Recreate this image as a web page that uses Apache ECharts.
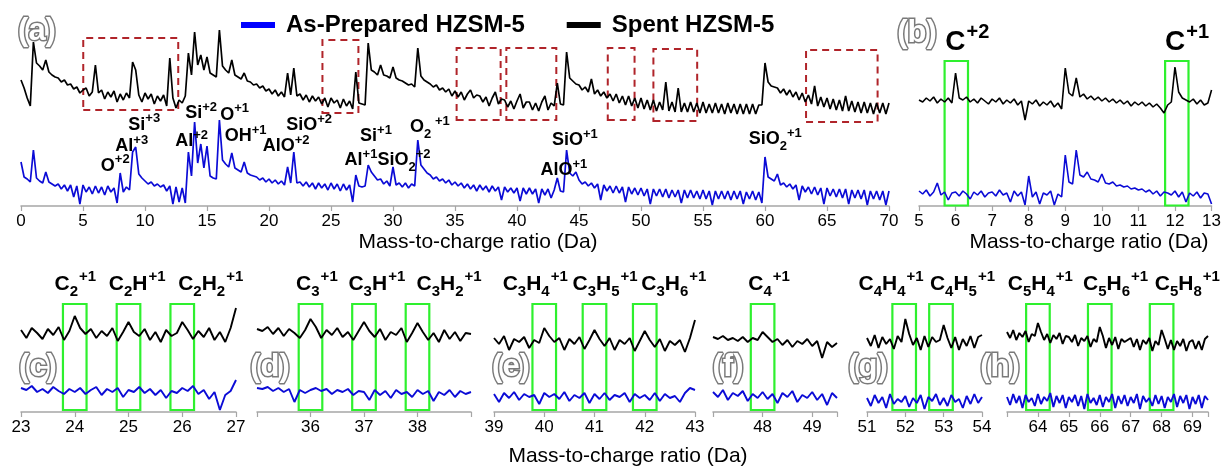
<!DOCTYPE html>
<html><head><meta charset="utf-8">
<script src="https://cdn.jsdelivr.net/npm/echarts/dist/echarts.min.js"></script>
<style>html,body{margin:0;padding:0;background:#fff}#c{width:1224px;height:466px}</style>
</head><body><div id="c"></div>
<script>
// ---------------- DATA (intensities in arbitrary offset units) ----------------
// Panel (a): m/z 0..70, step 0.25
const blackA = [
126,118,108,100, 164,143,140,136, 146,134,131,129, 128,124,126,121, 122,117,119,113,
116,118,110,114, 141,113,116,107, 114,109,115,104, 112,106,113,108, 144,136,111,104,
113,107,112,102, 110,105,111,100, 148,108,98,106, 103,110,153,131, 174,141,151,136,
149,133,131,129, 176,140,136,133, 146,131,129,127, 133,125,124,121, 122,118,120,115,
117,112,116,110, 114,109,133,111, 138,110,112,106, 111,104,110,105, 109,102,108,99,
108,103,106,98, 107,100,105,97, 134,103,102,101, 163,136,134,131, 141,131,130,128,
139,128,126,125, 123,121,122,119, 158,130,126,124, 122,119,121,116, 118,114,117,110,
115,109,114,106, 112,116,108,111, 110,104,109,100, 108,114,102,107, 106,99,105,97,
105,112,98,104, 104,96,103,95, 104,110,96,103, 100,123,102,101, 154,128,125,122,
121,116,119,114, 127,112,116,110, 114,108,112,105, 112,103,110,101, 110,100,108,98,
108,97,106,96, 106,95,104,96, 124,95,104,94, 118,94,103,94, 104,94,103,93,
104,93,102,93, 103,93,102,92, 103,93,102,92, 102,92,102,92, 102,92,101,101,
143,124,120,119, 118,113,117,111, 116,109,114,106, 113,104,111,102, 120,100,109,99,
108,97,107,96, 106,95,110,95, 105,94,104,93, 104,93,103,92, 103,93,103,92, 103];
const blueA = [
44,29,27,24, 56,28,25,23, 34,24,22,20, 22,17,21,15, 21,9,20,2,
21,14,19,12, 20,13,19,11, 20,14,18,3, 33,14,19,16, 54,59,32,28,
25,22,24,20, 22,19,21,15, 20,2,19,4, 18,3,54,30, 84,43,62,38,
60,30,28,27, 86,46,42,39, 53,38,36,34, 44,33,31,30, 29,26,28,24,
27,23,26,22, 25,21,39,23, 54,23,24,20, 24,19,23,17, 23,18,22,16,
23,17,22,15, 22,16,21,4, 31,20,19,20, 41,34,30,26, 27,22,25,20,
39,21,23,19, 23,18,22,20, 66,41,37,33, 31,27,29,25, 27,23,26,21,
24,20,23,18, 22,17,21,15, 21,16,20,14, 20,15,19,6, 19,14,18,13,
18,5,18,12, 18,12,17,3, 17,11,17,8, 16,28,15,14, 56,33,30,34,
26,22,24,20, 23,18,22,6, 21,15,20,13, 20,13,19,4, 19,12,18,11,
18,10,17,2, 17,10,17,9, 17,8,16,9, 16,3,16,8, 16,8,15,7,
16,7,15,1, 15,7,15,7, 15,6,15,7, 15,2,14,7, 15,6,14,3,
49,29,27,25, 32,21,23,19, 22,17,21,6, 20,14,19,12, 19,11,18,2,
18,10,17,9, 17,8,17,2, 16,8,16,7, 16,1,15,7, 15,6,15,1, 15];
// Panel (b): m/z 5..13, step 0.1
const blackB = [
106,104,108,105,109,103,107,104,108,103, 133,108,106,109,104,107,103,108,105,102,
107,104,108,102,106,103,107,101,105,86, 105,102,106,100,104,101,105,99,103,97,
138,113,110,128,109,112,107,110,106,109, 105,108,104,107,103,106,102,105,100,104,
101,104,100,103,99,102,98,93,101,104, 139,114,108,106,104,107,102,106,101,103, 116];
const blueB = [
15,12,16,10,14,23,11,14,6,13, 14,10,15,12,7,14,11,15,9,13,
14,10,16,11,13,4,15,10,14,1, 30,9,14,2,13,11,15,1,12,9,
51,24,22,56,31,29,34,27,26,24, 32,23,22,24,20,21,19,20,17,18,
16,17,14,16,12,15,10,14,13,11, 15,9,14,4,13,10,14,8,13,12, 2];
// Panels (c)-(h): step 0.1
const blackC = [82,74,84,79,73,83,77,85,72,81, 96,84,78,83,74,81,76,84,71,80, 90,80,76,83,72,80,70,82,76,79, 90,82,73,81,75,84,72,80,70,84, 104];
const blueC  = [24,22,26,20,23,19,25,21,18,23, 20,24,18,22,25,17,23,20,24,15, 22,20,25,19,23,17,22,14,21,19, 24,21,26,18,22,13,20,2,17,21, 32];
const blackD = [83,81,85,78,84,76,83,79,74,82, 93,85,74,82,77,84,75,80,72,81, 90,81,75,83,72,80,77,84,70,79, 89,80,72,79,70,82,73,80,71,79, 78];
const blueD  = [24,23,25,21,24,20,23,10,22,19, 22,24,21,23,18,22,20,23,17,21, 20,12,22,17,21,14,22,18,20,15, 22,18,21,11,20,17,22,15,21,18, 20];
const blackE = [74,68,76,62,73,70,75,64,72,69, 84,76,70,74,62,73,68,75,63,72, 82,73,66,74,62,72,68,74,61,71, 81,72,65,73,61,71,67,72,60,74, 92];
const blueE  = [18,10,19,14,20,12,18,15,17,8, 19,15,18,13,20,11,17,14,19,9, 18,13,19,12,17,15,19,10,18,14, 17,12,19,11,18,14,16,10,19,24, 22];
const blackF = [75,73,76,72,74,71,75,70,74,72, 80,75,70,73,67,72,65,71,68,73, 66,71,54,70,65,69];
const blueF  = [20,15,22,12,19,16,21,11,18,14, 20,13,18,9,19,15,21,10,17,14, 20,12,18,7,19,14];
const blackG = [74,66,77,64,75,68,73,63,76,70, 93,78,67,74,62,76,65,75,70,72, 87,74,64,75,62,73,66,76,64,75, 77];
const blueG  = [14,6,17,9,15,4,18,8,13,10, 16,5,14,9,17,3,15,11,18,7, 14,6,17,10,13,4,16,8,18,9, 15];
const blackH = [80,74,82,72,79,75,81,70,78,76, 89,80,72,78,69,77,73,79,68,76, 75,70,77,66,74,71,76,65,73,70,
                85,76,64,74,67,75,63,73,70,72, 74,65,73,62,72,68,74,61,71,67, 82,73,63,72,62,71,66,73,61,70, 72,63,71,62,73,76];
const blueH  = [15,7,18,9,16,4,17,10,14,6, 18,8,15,11,19,5,16,9,17,4, 15,10,17,6,16,3,18,9,14,7,
                17,5,15,10,18,4,16,8,17,6, 15,9,18,3,16,10,14,6,17,8, 16,4,15,10,18,5,16,9,17,3, 15,8,17,4,16,12];

// Tick labels shown on each axis
const ticksA = [0,5,10,15,20,25,30,35,40,45,50,55,60,65,70];
const ticksB = [5,6,7,8,9,10,11,12,13];
const ticksC = [23,24,25,26,27];
const ticksD = [36,37,38];
const ticksE = [39,40,41,42,43];
const ticksF = [48,49];
const ticksG = [51,52,53,54];
const ticksH = [64,65,66,67,68,69];

// Ion annotations: [m/z, level, label]
const ionsA = [
 [7.60,40,'{m|O}{sup|+2}'], [8.93,59.5,'{m|Al}{sup|+3}'], [9.94,81,'{m|Si}{sup|+3}'],
 [13.76,64.5,'{m|Al}{sup|+2}'], [14.53,92.5,'{m|Si}{sup|+2}'], [17.23,91,'{m|O}{sup|+1}'],
 [18.11,69.5,'{m|OH}{sup|+1}'], [21.38,59.5,'{m|AlO}{sup|+2}'], [23.23,80.5,'{m|SiO}{sup|+2}'],
 [28.63,69.5,'{m|Si}{sup|+1}'], [29.56,45.5,'{m|Al}{sup|+1}{m|SiO}{sub|2}{sup|+2}'],
 [32.98,78.5,'{m|O}{sub|2}{sup| +1}'], [43.78,35.5,'{m|AlO}{sup|+1}'], [44.67,65.5,'{m|SiO}{sup|+1}'],
 [60.82,66.5,'{m|SiO}{sub|2}{sup|+1}']];
const ionsB = [[6.32,163.5,'{m|C}{sup|+2}'], [12.33,163.5,'{m|C}{sup|+1}']];
const ionsC = [[24.01,128,'{m|C}{sub|2}{sup|+1}'], [25.16,128,'{m|C}{sub|2}{m|H}{sup|+1}'], [26.53,128,'{m|C}{sub|2}{m|H}{sub|2}{sup|+1}']];
const ionsD = [[36.12,128,'{m|C}{sub|3}{sup|+1}'], [37.24,128,'{m|C}{sub|3}{m|H}{sup|+1}'], [38.59,128,'{m|C}{sub|3}{m|H}{sub|2}{sup|+1}']];
const ionsE = [[39.82,128,'{m|C}{sub|3}{m|H}{sub|4}{sup|+1}'], [41.21,128,'{m|C}{sub|3}{m|H}{sub|5}{sup|+1}'], [42.58,128,'{m|C}{sub|3}{m|H}{sub|6}{sup|+1}']];
const ionsF = [[48.13,128,'{m|C}{sub|4}{sup|+1}']];
const ionsG = [[51.63,128,'{m|C}{sub|4}{m|H}{sub|4}{sup|+1}'], [53.49,128,'{m|C}{sub|4}{m|H}{sub|5}{sup|+1}']];
const ionsH = [[64.08,128,'{m|C}{sub|5}{m|H}{sub|4}{sup|+1}'], [66.51,128,'{m|C}{sub|5}{m|H}{sub|6}{sup|+1}'], [68.83,128,'{m|C}{sub|5}{m|H}{sub|8}{sup|+1}']];

// Highlight boxes
const redBoxesA = [[5.02,12.68,96,168],[24.31,27.21,93,166],[35.13,38.68,86,158],[39.14,43.17,86,158],[47.32,49.48,86,158],[51.0,54.53,85,157],[63.31,69.08,84,156]];
const greenB = [6.02,12.05];
const greenC = [24,25,26];
const greenD = [36,37,38];
const greenE = [40,41,42];
const greenF = [48];
const greenG = [51.97,52.93];
const greenH = [64,66,68];

// ---------------- LAYOUT ----------------
const FONT = 'Arial, "Liberation Sans", Helvetica, sans-serif';
const BLUE = '#0b0bd6', BLACK = '#000000';
const panels = [
 {left:21,  width:868, top:30,  height:176, ymax:176, min:0,  max:70,  interval:5, start:0,  step:0.25, lw:1.7, black:blackA, blue:blueA, ticks:ticksA, ions:ionsA, style:'a', green:null, gy:null},
 {left:919, width:295, top:30,  height:176, ymax:176, min:5,  max:13,  interval:1, start:5,  step:0.1, lw:1.6, black:blackB, blue:blueB, ticks:ticksB, ions:ionsB, style:'b', green:greenB, gy:[0.5,145]},
 {left:21,  width:215, top:262, height:150, ymax:150, min:23, max:27,  interval:1, start:23, step:0.1, lw:1.9, black:blackC, blue:blueC, ticks:ticksC, ions:ionsC, style:'s', green:greenC, gy:[2,108]},
 {left:257, width:214, top:262, height:150, ymax:150, min:35, max:39,  interval:1, start:35, step:0.1, lw:1.9, black:blackD, blue:blueD, ticks:ticksD, ions:ionsD, style:'s', green:greenD, gy:[2,108]},
 {left:494, width:201, top:262, height:150, ymax:150, min:39, max:43,  interval:1, start:39, step:0.1, lw:1.9, black:blackE, blue:blueE, ticks:ticksE, ions:ionsE, style:'s', green:greenE, gy:[2,108]},
 {left:713, width:124, top:262, height:150, ymax:150, min:47, max:49.5,interval:1, start:47, step:0.1, lw:1.9, black:blackF, blue:blueF, ticks:ticksF, ions:ionsF, style:'s', green:greenF, gy:[2,108]},
 {left:867, width:115, top:262, height:150, ymax:150, min:51, max:54,  interval:1, start:51, step:0.1, lw:1.9, black:blackG, blue:blueG, ticks:ticksG, ions:ionsG, style:'s', green:greenG, gy:[2,108]},
 {left:1007,width:201, top:262, height:150, ymax:150, min:63, max:69.5,interval:1, start:63, step:0.1, lw:1.9, black:blackH, blue:blueH, ticks:ticksH, ions:ionsH, style:'s', green:greenH, gy:[2,108]}
];
const tok = (size, pad) => ({fontSize:size, fontWeight:'bold', fontFamily:FONT, color:'#000', opacity:1, padding:pad});
const richStyles = {
  a: {m:tok(18,0), sup:tok(13,[0,0,13,0]), sub:tok(13,[13,0,0,0])},
  b: {m:tok(28,0), sup:tok(20,[0,0,20,1]), sub:tok(20,[20,0,0,0])},
  s: {m:tok(21,0), sup:tok(15,[0,0,15,1]), sub:tok(15,[15,0,0,0])}
};

const grid = [], xAxis = [], yAxis = [], series = [];
panels.forEach((p, k) => {
  grid.push({left:p.left, width:p.width, top:p.top, height:p.height, containLabel:false});
  xAxis.push({type:'value', gridIndex:k, min:p.min, max:p.max, interval:p.interval,
    axisLine:{show:true, lineStyle:{color:'#a6a6a6', width:1.5}},
    axisTick:{show:true, length:5, lineStyle:{color:'#a6a6a6', width:1.2}},
    splitLine:{show:false},
    axisLabel:{show:true, color:'#000', fontSize:17, fontFamily:FONT, margin:7, showMaxLabel:true, showMinLabel:true,
      formatter: v => p.ticks.indexOf(v) >= 0 ? String(v) : ''}});
  yAxis.push({type:'value', gridIndex:k, min:0, max:p.ymax, show:false});
  const toPairs = arr => arr.map((v, i) => [+(p.start + i * p.step).toFixed(3), v]);
  const hw = 11.8 / (p.width / (p.max - p.min));
  const blueSeries = {type:'line', name:'As-Prepared HZSM-5', xAxisIndex:k, yAxisIndex:k, data:toPairs(p.blue),
    showSymbol:false, symbol:'none', lineStyle:{color:BLUE, width:p.lw, join:'bevel'}, itemStyle:{color:BLUE}, animation:false, silent:true, z:3};
  const blackSeries = {type:'line', name:'Spent HZSM-5', xAxisIndex:k, yAxisIndex:k, data:toPairs(p.black),
    showSymbol:false, symbol:'none', lineStyle:{color:BLACK, width:p.lw, join:'bevel'}, itemStyle:{color:BLACK}, animation:false, silent:true, z:3};
  if (k === 0) {
    blackSeries.markArea = {silent:true, itemStyle:{color:'rgba(0,0,0,0)', borderColor:'#b0242a', borderWidth:2, borderType:[7,5]},
      data: redBoxesA.map(b => [{coord:[b[0], b[2]]}, {coord:[b[1], b[3]]}])};
  }
  if (p.green) {
    blueSeries.markArea = {silent:true, itemStyle:{color:'rgba(0,0,0,0)', borderColor:'#2ef02e', borderWidth:2.2},
      data: p.green.map(c => [{coord:[c - hw, p.gy[0]]}, {coord:[c + hw, p.gy[1]]}])};
  }
  series.push(blueSeries, blackSeries);
  series.push({type:'scatter', xAxisIndex:k, yAxisIndex:k, symbolSize:0, silent:true, animation:false, z:5,
    itemStyle:{opacity:1, color:'#000'},
    data: p.ions.map(d => ({value:[d[0], d[1]], label:{formatter:d[2]}})),
    label:{show:true, position:'inside', color:'#000', opacity:1, textBorderWidth:0, rich:richStyles[p.style]},
    emphasis:{disabled:true}});
});

const panelLabel = (txt, x, y) => ({type:'text', x:x, y:y, silent:true, z:10,
  style:{text:txt, font:'bold 31px ' + FONT, fill:'#ffffff', stroke:'#7a7a7a', lineWidth:3,
         textAlign:'center', textVerticalAlign:'middle', shadowColor:'rgba(0,0,0,0.45)', shadowBlur:3, shadowOffsetX:1.5, shadowOffsetY:1.5}});
const axisTitle = (x, y) => ({type:'text', x:x, y:y, silent:true,
  style:{text:'Mass-to-charge ratio (Da)', font:'21px ' + FONT, fill:'#000', textAlign:'center', textVerticalAlign:'middle'}});

const chart = echarts.init(document.getElementById('c'), null, {renderer:'canvas'});
chart.setOption({
  animation:false,
  backgroundColor:'#ffffff',
  legend:{left:236, top:8, icon:'rect', itemWidth:34, itemHeight:6, itemGap:42, selectedMode:false,
    textStyle:{fontSize:24, fontWeight:'bold', color:'#000', fontFamily:FONT, padding:[0,0,0,6]},
    data:[{name:'As-Prepared HZSM-5', itemStyle:{color:'#0000ff'}}, {name:'Spent HZSM-5', itemStyle:{color:'#000'}}]},
  grid, xAxis, yAxis, series,
  graphic:[
    panelLabel('(a)', 37, 31), panelLabel('(b)', 917, 33),
    panelLabel('(c)', 38, 367), panelLabel('(d)', 270, 367), panelLabel('(e)', 511, 367),
    panelLabel('(f)', 728, 367), panelLabel('(g)', 868, 367), panelLabel('(h)', 1000, 367),
    axisTitle(478, 242), axisTitle(1089, 242), axisTitle(628, 456)
  ]
});
</script></body></html>
